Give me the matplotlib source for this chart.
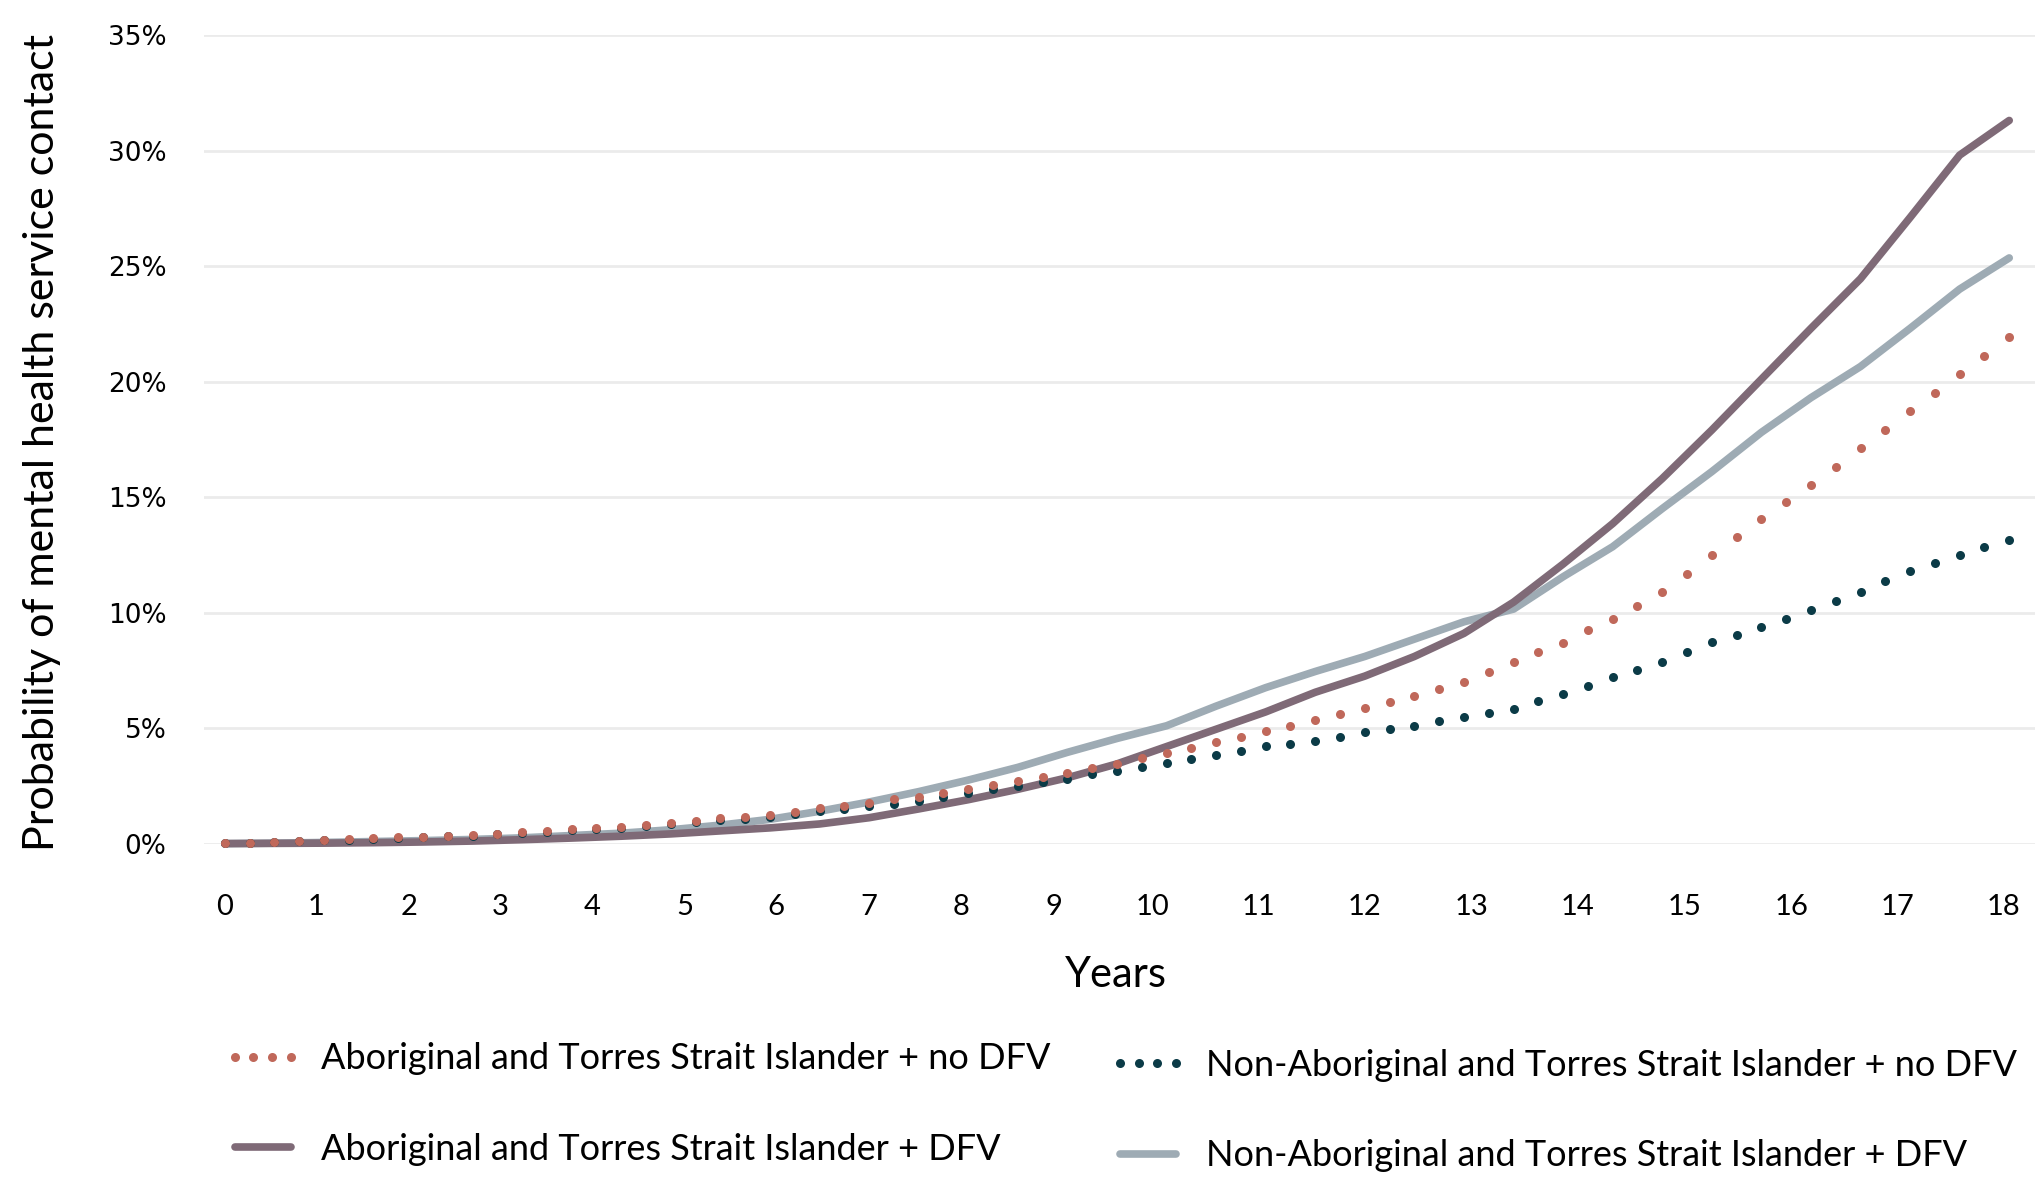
import numpy as np
import matplotlib
matplotlib.use("Agg")
import matplotlib.pyplot as plt
from matplotlib import font_manager

# quarterly points for the dotted series, half-yearly for the solid ones
x_q = np.linspace(0, 18, 73)
x_h = np.linspace(0, 18, 37)

abor_no_dfv = [0.01, 0.04, 0.07, 0.12, 0.16, 0.19, 0.23, 0.27, 0.30, 0.33,
               0.38, 0.43, 0.50, 0.56, 0.62, 0.67, 0.74, 0.81, 0.89, 0.99,
               1.10, 1.16, 1.25, 1.38, 1.52, 1.62, 1.77, 1.91, 2.03, 2.17,
               2.38, 2.54, 2.71, 2.87, 3.07, 3.26, 3.46, 3.69, 3.90, 4.13,
               4.38, 4.61, 4.87, 5.10, 5.35, 5.61, 5.85, 6.13, 6.40, 6.69,
               6.99, 7.43, 7.88, 8.28, 8.70, 9.23, 9.74, 10.30, 10.88, 11.69,
               12.50, 13.28, 14.04, 14.79, 15.53, 16.31, 17.13, 17.92, 18.72, 19.51,
               20.32, 21.12, 21.91]

non_abor_no_dfv = [0.01, 0.03, 0.06, 0.10, 0.14, 0.17, 0.21, 0.25, 0.28, 0.31,
                   0.35, 0.40, 0.46, 0.52, 0.58, 0.63, 0.69, 0.76, 0.83, 0.92,
                   1.02, 1.08, 1.17, 1.30, 1.41, 1.51, 1.62, 1.72, 1.84, 2.00,
                   2.17, 2.35, 2.49, 2.65, 2.78, 3.00, 3.16, 3.33, 3.47, 3.66,
                   3.83, 4.02, 4.21, 4.32, 4.45, 4.62, 4.81, 4.96, 5.10, 5.30,
                   5.49, 5.66, 5.84, 6.17, 6.49, 6.84, 7.20, 7.51, 7.86, 8.29,
                   8.73, 9.05, 9.36, 9.73, 10.09, 10.51, 10.91, 11.36, 11.81, 12.15,
                   12.50, 12.85, 13.16]

abor_dfv = [0.0, 0.01, 0.02, 0.04, 0.07, 0.11, 0.17, 0.24, 0.32, 0.42,
            0.55, 0.68, 0.85, 1.12, 1.50, 1.90, 2.35, 2.85, 3.45, 4.20,
            4.95, 5.70, 6.55, 7.25, 8.10, 9.10, 10.45, 12.10, 13.85, 15.80,
            17.90, 20.10, 22.30, 24.45, 27.10, 29.80, 31.30]

non_abor_dfv = [0.0, 0.02, 0.05, 0.09, 0.13, 0.18, 0.25, 0.35, 0.45, 0.60,
                0.80, 1.05, 1.40, 1.80, 2.25, 2.75, 3.30, 3.95, 4.55, 5.10,
                5.95, 6.75, 7.45, 8.10, 8.85, 9.60, 10.15, 11.55, 12.85, 14.50,
                16.10, 17.80, 19.30, 20.65, 22.30, 24.00, 25.35]

tick_pos = [0, 0.92, 1.86, 2.78, 3.71, 4.64, 5.56, 6.5, 7.43, 8.36,
            9.36, 10.43, 11.5, 12.58, 13.65, 14.73, 15.8, 16.87, 17.94]
tick_labels = [str(i) for i in range(19)]
y_ticks = [0, 5, 10, 15, 20, 25, 30, 35]

labels = ["Aboriginal and Torres Strait Islander + no DFV",
          "Aboriginal and Torres Strait Islander + DFV",
          "Non-Aboriginal and Torres Strait Islander + no DFV",
          "Non-Aboriginal and Torres Strait Islander + DFV"]

c_orange = "#C0685A"
c_teal = "#0B3B47"
c_purple = "#7F6A77"
c_gray = "#9EABB4"

installed = {f.name for f in font_manager.fontManager.ttflist}
narrow = "Liberation Sans Narrow" if "Liberation Sans Narrow" in installed else "Lato"

fig = plt.figure(figsize=(20.35, 11.86), dpi=100)
ax = fig.add_axes([0.1002, 0.2887, 0.8998, 0.6818])

l_gray, = ax.plot(x_h, non_abor_dfv, color=c_gray, lw=5.5, solid_capstyle="round",
                  solid_joinstyle="round", clip_on=False, zorder=3)
l_purple, = ax.plot(x_h, abor_dfv, color=c_purple, lw=5.5, solid_capstyle="round",
                    solid_joinstyle="round", clip_on=False, zorder=4)
l_teal, = ax.plot(x_q, non_abor_no_dfv, ls="none", marker="o", ms=6.5, mew=0,
                  color=c_teal, clip_on=False, zorder=5)
l_orange, = ax.plot(x_q, abor_no_dfv, ls="none", marker="o", ms=6.5, mew=0,
                    color=c_orange, clip_on=False, zorder=6)

ax.set_xlim(-0.21, 18.26)
ax.set_ylim(0, 35)
ax.set_yticks(y_ticks)
ax.set_yticklabels([f"{v}%" for v in y_ticks], family="DejaVu Sans", fontsize=19)
ax.set_xticks(tick_pos)
ax.set_xticklabels(tick_labels, family=narrow, fontsize=21)
ax.tick_params(axis="x", length=0, pad=36)
ax.tick_params(axis="y", length=0, pad=27)
ax.grid(axis="y", color="#EBEBEB", lw=2)
ax.set_axisbelow(True)
for s in ax.spines.values():
    s.set_visible(False)

yl = ax.set_ylabel("Probability of mental health service contact", family="Lato", fontsize=31)
ax.yaxis.set_label_coords(-0.0885, 0.496)
yl.set_va("center")
xl = ax.set_xlabel("Years", family="Lato", fontsize=30)
ax.xaxis.set_label_coords(0.498, -0.162)
xl.set_va("center")

leg_kw = dict(frameon=False, loc="center left", borderpad=0, borderaxespad=0,
              handlelength=2.15, handletextpad=0.53, labelspacing=1.6, numpoints=4,
              prop={"family": "Lato", "size": 26})
fig.legend([l_orange, l_purple], labels[:2], bbox_to_anchor=(0.110, 0.0691), **leg_kw)
fig.legend([l_teal, l_gray], labels[2:], bbox_to_anchor=(0.545, 0.0637), **leg_kw)

fig.savefig("out.png", dpi=100)
